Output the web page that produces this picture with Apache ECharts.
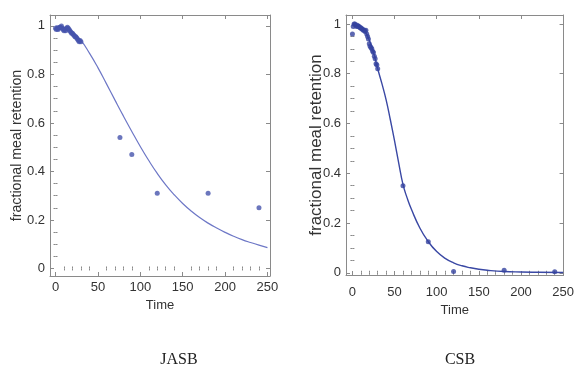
<!DOCTYPE html>
<html>
<head>
<meta charset="utf-8">
<script src="https://cdn.jsdelivr.net/npm/echarts@6/dist/echarts.min.js"></script>
<style>
html,body{margin:0;padding:0;background:#fff;}
#c{width:577px;height:383px;}
</style>
</head>
<body>
<div id="c"></div>
<script>
// ---- data ----
var panelTitles = ['JASB', 'CSB'];
var xTickLabels = [0, 50, 100, 150, 200, 250];
var yTickLabels = [0, 0.2, 0.4, 0.6, 0.8, 1];
var xMinorTicks = [10,20,30,40,60,70,80,90,110,120,130,140,160,170,180,190,210,220,230,240];
var yMinorTicks = [0.05,0.1,0.15,0.25,0.3,0.35,0.45,0.5,0.55,0.65,0.7,0.75,0.85,0.9,0.95];

var jasbTime = [0,1,2,3,4,5,6,7,8,9,10,11,12,13,14,15,16,17,18,19,20,21,22,23,24,25,26,27,28,29,30,76,90,120,180,240];
var jasbObs  = [0.99,0.985,0.99,0.985,0.99,0.995,0.995,1.0,0.99,0.985,0.98,0.985,0.98,0.99,0.995,0.99,0.985,0.98,0.975,0.97,0.97,0.965,0.96,0.955,0.955,0.95,0.945,0.94,0.935,0.94,0.935,0.54,0.47,0.31,0.31,0.25];
var jasbFitTime = [0,10,20,30,40,50,60,70,80,90,100,110,120,130,140,150,160,170,180,190,200,210,220,230,240,250];
var jasbFit     = [1.0,0.995,0.975,0.94,0.888,0.828,0.762,0.695,0.629,0.565,0.503,0.445,0.392,0.345,0.304,0.268,0.237,0.21,0.187,0.167,0.149,0.133,0.119,0.107,0.096,0.086];

var csbTime = [0,1,2,3,4,5,6,7,8,9,10,11,12,13,14,15,16,17,18,19,20,21,22,23,24,25,26,27,28,29,30,60,90,120,180,240];
var csbObs  = [0.96,0.99,1.0,1.0,0.995,0.99,0.995,0.99,0.99,0.985,0.985,0.98,0.98,0.975,0.975,0.97,0.975,0.96,0.95,0.94,0.92,0.91,0.905,0.9,0.89,0.885,0.87,0.86,0.84,0.835,0.82,0.35,0.125,0.005,0.01,0.004];
var csbFitTime = [0,5,10,15,20,25,30,35,40,45,50,55,60,65,70,80,90,100,110,120,130,140,150,160,180,200,220,250];
var csbFit     = [1.0,0.998,0.99,0.97,0.935,0.885,0.82,0.76,0.695,0.615,0.53,0.44,0.355,0.3,0.255,0.18,0.125,0.085,0.058,0.04,0.028,0.02,0.014,0.01,0.005,0.003,0.002,0.001];

// ---- layout ----
var grids = [
  {left: 50, top: 15, width: 220, height: 261},
  {left: 346, top: 15, width: 223, height: 260}
];
var xRanges = [[-6.5, 253], [-7.6, 250.5]];
var yRanges = [[-0.031, 1.045], [-0.009, 1.036]];
var yNameSize = [14.2, 17];
var yNameGap = [26, 21];
var xLabelMargin = [5, 11];
var xNameGap = [23, 29];

var frameColor = '#8a8a8a';
var textColor = '#333';
var font = 'Liberation Sans, Arial, sans-serif';

var xAxes = [], yAxes = [];
function addAxes(list, i, isX) {
  var r = isX ? xRanges[i] : yRanges[i];
  var major = isX ? xTickLabels : yTickLabels;
  var minor = isX ? xMinorTicks : yMinorTicks;
  var posA = isX ? 'bottom' : 'left';
  var posB = isX ? 'top' : 'right';
  var base = {type: 'value', gridIndex: i, min: r[0], max: r[1], splitLine: {show: false}, scale: true};
  list.push(Object.assign({}, base, {
    position: posA,
    axisLine: {show: true, onZero: false, lineStyle: {color: frameColor, width: 1}},
    axisTick: {show: true, inside: true, length: 4, customValues: major, lineStyle: {color: frameColor}},
    axisLabel: {show: true, customValues: major, color: textColor, fontSize: 13, fontFamily: font,
                margin: isX ? xLabelMargin[i] : 5, hideOverlap: false},
    name: isX ? 'Time' : 'fractional meal retention',
    nameLocation: 'middle',
    nameGap: isX ? xNameGap[i] : yNameGap[i],
    nameMoveOverlap: false,
    nameTextStyle: {color: textColor, fontFamily: font, fontSize: isX ? 13 : yNameSize[i]}
  }));
  list.push(Object.assign({}, base, {
    position: posA,
    axisLine: {show: false},
    axisTick: {show: true, inside: true, length: 2, customValues: minor, lineStyle: {color: frameColor}},
    axisLabel: {show: false}
  }));
  list.push(Object.assign({}, base, {
    position: posB,
    axisLine: {show: true, onZero: false, lineStyle: {color: frameColor, width: 1}},
    axisTick: {show: true, inside: true, length: 4, customValues: major, lineStyle: {color: frameColor}},
    axisLabel: {show: false}
  }));
  list.push(Object.assign({}, base, {
    position: posB,
    axisLine: {show: false},
    axisTick: {show: true, inside: true, length: 2, customValues: minor, lineStyle: {color: frameColor}},
    axisLabel: {show: false}
  }));
}
for (var i = 0; i < 2; i++) {
  addAxes(xAxes, i, true);
  addAxes(yAxes, i, false);
}

function zip(a, b) { return a.map(function (v, k) { return [v, b[k]]; }); }

var titleStyle = {fontFamily: 'Liberation Serif, Times New Roman, serif', fontWeight: 'normal', fontSize: 16, color: '#222'};
var option = {
  animation: false,
  backgroundColor: '#fff',
  grid: grids,
  xAxis: xAxes,
  yAxis: yAxes,
  title: [
    {text: panelTitles[0], left: 174, top: 347, textAlign: 'center', textStyle: titleStyle},
    {text: panelTitles[1], left: 455, top: 347, textAlign: 'center', textStyle: titleStyle}
  ],
  series: [
    {type: 'line', xAxisIndex: 0, yAxisIndex: 0, data: zip(jasbFitTime, jasbFit), smooth: true,
     showSymbol: false, lineStyle: {color: '#6d77c6', width: 1.2}, z: 2},
    {type: 'scatter', xAxisIndex: 0, yAxisIndex: 0, data: zip(jasbTime, jasbObs), symbolSize: 5,
     itemStyle: {color: '#4654ad'}, z: 3},
    {type: 'line', xAxisIndex: 4, yAxisIndex: 4, data: zip(csbFitTime, csbFit), smooth: true,
     showSymbol: false, lineStyle: {color: '#3a48a4', width: 1.4}, z: 2},
    {type: 'scatter', xAxisIndex: 4, yAxisIndex: 4, data: zip(csbTime, csbObs), symbolSize: 5,
     itemStyle: {color: '#34429f'}, z: 3}
  ]
};
var chart = echarts.init(document.getElementById('c'), null, {renderer: 'canvas'});
chart.setOption(option);
</script>
</body>
</html>
